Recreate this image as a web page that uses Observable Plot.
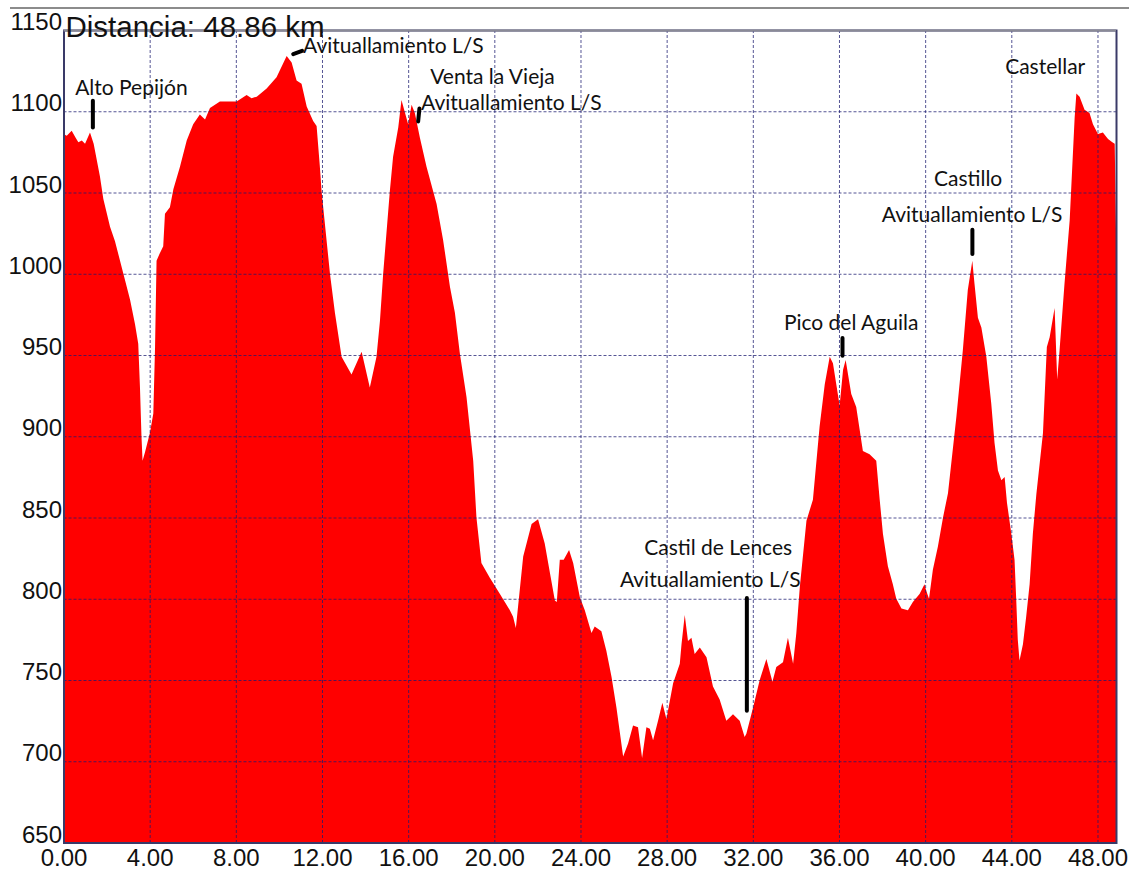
<!DOCTYPE html>
<html><head><meta charset="utf-8">
<script src="https://cdn.jsdelivr.net/npm/d3@7"></script>
<script src="https://cdn.jsdelivr.net/npm/@observablehq/plot@0.6"></script>
<style>
body{margin:0;background:#fff;}
#wrap{position:relative;width:1147px;height:881px;}
#topline{position:absolute;left:10px;top:7px;width:1119px;border-top:2px solid #8c8c8c;}
#chart{position:absolute;left:0;top:0;}
</style></head><body><div id="wrap"><div id="topline"></div><div id="chart"></div></div>
<script>
const title = "Distancia: 48.86 km";
const km = [
0.00,0.15,0.38,0.55,0.69,0.85,1.00,1.23,1.40,1.69,
1.85,2.16,2.39,2.78,3.09,3.32,3.47,3.55,3.62,3.67,
3.78,4.01,4.17,4.25,4.32,4.45,4.63,4.71,4.94,5.10,
5.41,5.72,6.02,6.33,6.57,6.80,7.26,8.04,8.50,8.73,
8.97,9.43,9.89,10.36,10.59,10.82,11.05,11.29,11.59,11.75,
11.90,11.98,12.37,12.60,12.91,13.37,13.84,14.22,14.53,14.69,
14.84,15.15,15.30,15.54,15.69,16.00,16.16,16.31,16.54,16.85,
17.32,17.62,17.94,18.17,18.40,18.71,19.02,19.17,19.40,19.79,
20.26,20.72,20.87,21.00,21.34,21.73,22.03,22.34,22.58,22.81,
22.90,23.04,23.22,23.47,23.66,23.97,24.20,24.51,24.66,24.97,
25.20,25.44,25.67,25.98,26.21,26.44,26.67,26.86,27.06,27.22,
27.37,27.60,27.80,27.99,28.30,28.61,28.69,28.84,28.99,29.15,
29.30,29.54,29.85,30.15,30.46,30.77,31.08,31.39,31.62,31.70,
32.01,32.32,32.63,32.91,33.09,33.40,33.63,33.87,34.02,34.18,
34.49,34.79,35.10,35.34,35.57,35.72,36.03,36.19,36.31,36.57,
36.80,37.11,37.42,37.73,37.89,38.04,38.27,38.50,38.66,38.90,
39.20,39.43,39.74,39.97,40.05,40.18,40.36,40.59,40.83,41.06,
41.45,41.75,41.98,42.19,42.29,42.45,42.61,42.84,43.07,43.22,
43.38,43.54,43.69,43.80,44.00,44.15,44.23,44.30,44.38,44.54,
44.69,44.85,45.00,45.16,45.47,45.65,45.78,46.01,46.13,46.24,
46.47,46.71,46.94,47.02,47.17,47.40,47.63,47.79,48.02,48.25,
48.49,48.69,48.80,48.86];
const elev = [
1086,1085,1088,1084,1081,1082,1080,1087,1080,1060,
1046,1029,1020,1000,984,969,957,930,900,885,
890,902,914,955,1008,1012,1017,1037,1041,1052,
1066,1082,1092,1098,1095,1102,1106,1106,1110,1108,
1109,1114,1121,1134,1130,1119,1117,1103,1094,1091,
1066,1051,1000,976,949,938,952,930,949,971,
1000,1051,1072,1090,1107,1092,1104,1099,1084,1066,
1043,1021,992,976,951,924,885,850,822,813,
803,793,789,782,826,846,849,834,816,799,
798,824,824,830,822,801,793,779,783,780,
768,752,733,703,711,722,721,702,721,720,
713,725,736,726,748,760,772,790,774,776,
766,770,764,746,738,725,729,725,715,717,
733,750,763,749,758,761,776,760,779,807,
848,861,906,932,949,945,919,941,947,926,
918,891,889,885,861,840,820,809,800,794,
793,798,803,809,805,800,818,832,850,865,
912,953,990,1008,994,973,967,949,920,896,
879,873,875,859,840,824,799,775,762,772,
789,809,840,864,902,955,961,979,935,953,
994,1033,1096,1111,1109,1101,1099,1092,1086,1087,
1083,1081,1080,1028];

const xTicks = [0,4,8,12,16,20,24,28,32,36,40,44,48];
const yTicks = [650,700,750,800,850,900,950,1000,1050,1100,1150];

const labelText = ["Alto Pepijón","Avituallamiento L/S","Venta la Vieja","Avituallamiento L/S","Castil de Lences","Avituallamiento L/S","Pico del Aguila","Castillo","Avituallamiento L/S","Castellar"];
const labelKm   = [3.13, 15.29, 19.89, 20.77, 30.37, 30.00, 36.54, 41.97, 42.16, 45.55];
const labelElev = [1114.2, 1140, 1121.5, 1105.2, 831.1, 811.4, 969.8, 1058.6, 1036, 1127.1];

const markKm1   = [1.34, 10.64, 16.50, 31.70, 36.14, 42.17];
const markElev1 = [1106.7, 1135.5, 1102, 800.7, 960.7, 1027.4];
const markKm2   = [1.34, 11.05, 16.44, 31.70, 36.14, 42.17];
const markElev2 = [1090.3, 1137.5, 1094, 731.4, 949.8, 1012.4];

const profile = km.map((k, i) => ({km: k, elev: elev[i]}));
const labels = labelText.map((t, i) => ({t, km: labelKm[i], elev: labelElev[i]}));
const markers = markKm1.map((k, i) => ({x1: k, y1: markElev1[i], x2: markKm2[i], y2: markElev2[i]}));

const gridStyle = {stroke: "#1c1c70", strokeWidth: 1, strokeDasharray: "3,2", strokeOpacity: 0.75};

const chart = Plot.plot({
  width: 1147,
  height: 881,
  marginLeft: 63.5,
  marginRight: 31,
  marginTop: 30,
  marginBottom: 38.5,
  style: {fontFamily: "'Liberation Sans', Arial, sans-serif", background: "transparent", color: "#000"},
  x: {domain: [0, 48.86]},
  y: {domain: [650, 1150]},
  marks: [
    Plot.areaY(profile, {x: "km", y1: 650, y2: "elev", fill: "#ff0000"}),
    Plot.ruleX(xTicks.slice(1), gridStyle),
    Plot.ruleY(yTicks.slice(1, -1), gridStyle),
    Plot.frame({stroke: "#3a3a68", strokeWidth: 2}),
    Plot.ruleY([1150], {stroke: "#8a8a96", strokeWidth: 2}),
    Plot.axisX(xTicks, {tickSize: 0, tickPadding: 6, tickFormat: d3.format(".2f"), fontSize: 24, fill: "#111", label: null}),
    Plot.axisY(yTicks, {tickSize: 0, tickPadding: 2, dy: -8, tickFormat: d3.format("d"), fontSize: 24, fill: "#111", label: null}),
    Plot.link(markers, {x1: "x1", y1: "y1", x2: "x2", y2: "y2", stroke: "#000", strokeWidth: 4, strokeLinecap: "round"}),
    Plot.text(labels, {x: "km", y: "elev", text: "t", fontSize: 21, fontFamily: "Lato", fill: "#111", textAnchor: "middle"}),
    Plot.text([title], {frameAnchor: "top-left", dx: 1.5, dy: -3, lineAnchor: "middle", textAnchor: "start", fontSize: 29.5, fill: "#111"})
  ]
});
document.getElementById("chart").appendChild(chart);
</script>
</body></html>
